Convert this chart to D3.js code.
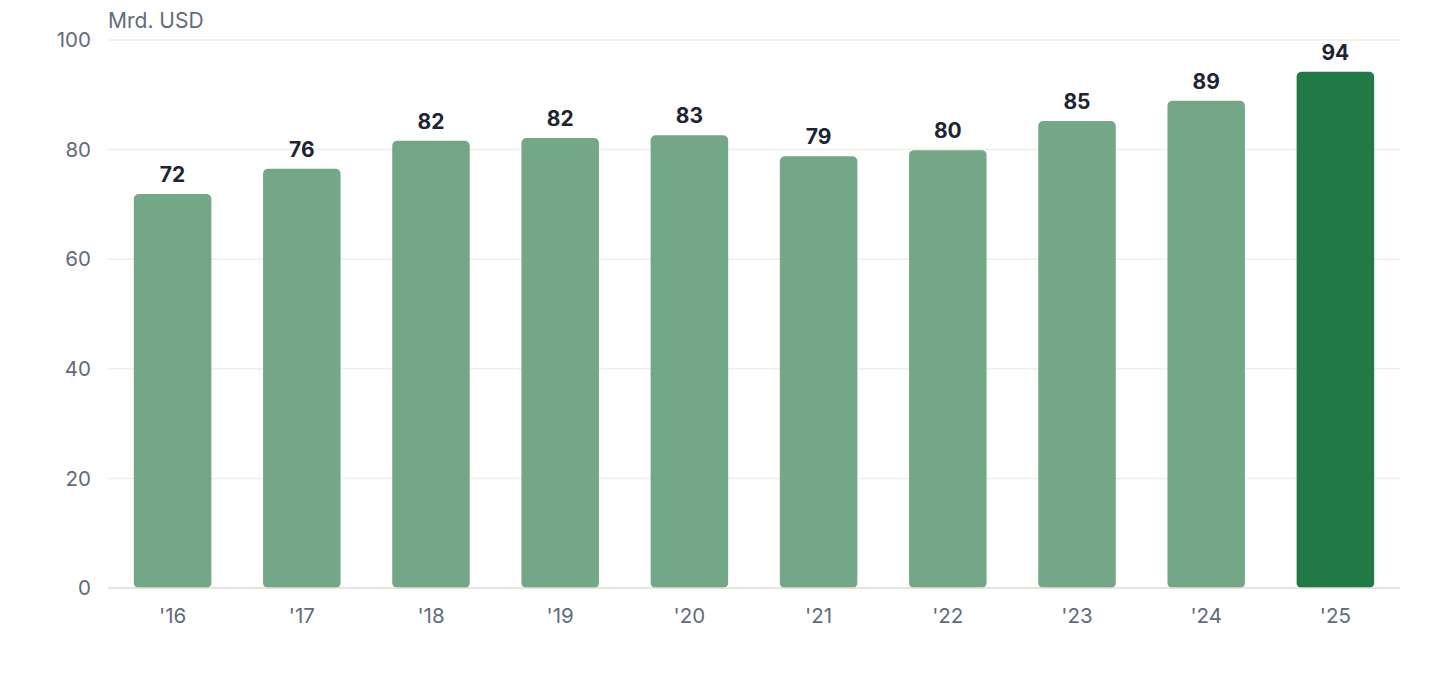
<!DOCTYPE html>
<html lang="en">
  <head>
    <meta charset="UTF-8" />
    <title>Mrd. USD</title>
    <script src="https://d3js.org/d3.v7.min.js"></script>
    <style>
      body { margin: 0; background: #fff; }
      svg text { font-family: Inter, "Noto Sans", sans-serif; }
    </style>
  </head>
  <body>
    <svg id="chart" width="1440" height="680"></svg>
    <script>
      const years = ["'16", "'17", "'18", "'19", "'20", "'21", "'22", "'23", "'24", "'25"];
      const values = [71.9, 76.5, 81.6, 82.1, 82.6, 78.8, 79.9, 85.2, 88.9, 94.2];
      const labels = ["72", "76", "82", "82", "83", "79", "80", "85", "89", "94"];
      const yTicks = [0, 20, 40, 60, 80, 100];

      const svg = d3.select("#chart");
      const margin = { top: 40, right: 40, bottom: 92, left: 108 };
      const width = 1440 - margin.left - margin.right;
      const height = 680 - margin.top - margin.bottom;
      const g = svg.append("g")
        .attr("transform", "translate(" + margin.left + "," + margin.top + ")");

      const x = d3.scaleBand().domain(years).range([0, width]).paddingInner(0.4).paddingOuter(0.2);
      const y = d3.scaleLinear().domain([0, 100]).range([height, 0]);

      // grid
      g.selectAll("line.grid")
        .data(yTicks.filter((d) => d > 0))
        .join("line")
        .attr("class", "grid")
        .attr("x1", 0).attr("x2", width)
        .attr("y1", (d) => y(d)).attr("y2", (d) => y(d))
        .attr("stroke", "#eeeeea")
        .attr("stroke-width", 1.5);

      // y tick labels
      g.selectAll("text.ytick")
        .data(yTicks)
        .join("text")
        .attr("class", "ytick")
        .attr("x", -17)
        .attr("y", (d) => y(d))
        .attr("dy", "0.35em")
        .attr("text-anchor", "end")
        .attr("font-size", 20.5)
        .attr("fill", "#5f6b7a")
        .text((d) => d);

      svg.append("text")
        .attr("x", 108).attr("y", 28)
        .attr("font-size", 21)
        .attr("fill", "#5f6b7a")
        .text("Mrd. USD");

      const data = years.map((d, i) => ({ year: d, value: values[i], label: labels[i], last: i === years.length - 1 }));

      g.selectAll("rect.bar")
        .data(data)
        .join("rect")
        .attr("class", "bar")
        .attr("x", (d) => x(d.year))
        .attr("width", x.bandwidth())
        .attr("y", (d) => y(d.value))
        .attr("height", (d) => y(0) - y(d.value))
        .attr("rx", 5)
        .attr("fill", (d) => (d.last ? "#217a46" : "#74a787"));

      // baseline
      g.append("line")
        .attr("x1", 0).attr("x2", width)
        .attr("y1", y(0)).attr("y2", y(0))
        .attr("stroke", "#e0ddd2")
        .attr("stroke-width", 1.5);

      g.selectAll("text.val")
        .data(data)
        .join("text")
        .attr("class", "val")
        .attr("x", (d) => x(d.year) + x.bandwidth() / 2)
        .attr("y", (d) => y(d.value) - 12)
        .attr("text-anchor", "middle")
        .attr("font-size", 21)
        .attr("font-weight", 700)
        .attr("fill", "#1d2433")
        .text((d) => d.label);

      g.selectAll("text.xtick")
        .data(years)
        .join("text")
        .attr("class", "xtick")
        .attr("x", (d) => x(d) + x.bandwidth() / 2)
        .attr("y", y(0) + 35)
        .attr("text-anchor", "middle")
        .attr("font-size", 20.5)
        .attr("fill", "#5f6b7a")
        .text((d) => d);
    </script>
  </body>
</html>
